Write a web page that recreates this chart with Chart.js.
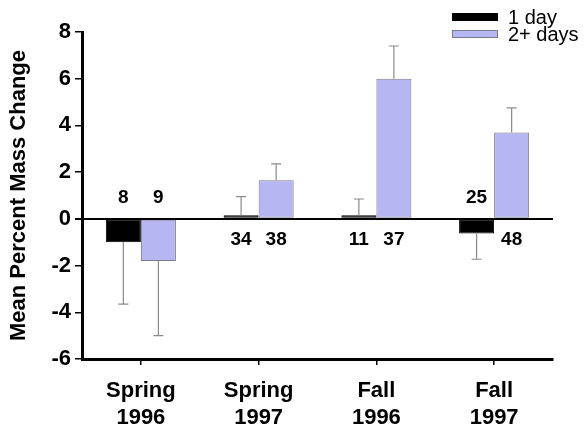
<!DOCTYPE html>
<html>
<head>
<meta charset="utf-8">
<script src="https://cdn.jsdelivr.net/npm/chart.js@4/dist/chart.umd.min.js"></script>
<style>
html,body{margin:0;padding:0;background:#fff;}
#wrap{width:584px;height:430px;position:relative;}
</style>
</head>
<body>
<div id="wrap"><canvas id="c" width="584" height="430"></canvas></div>
<script>
const categories = [["Spring","1996"],["Spring","1997"],["Fall","1996"],["Fall","1997"]];
const oneDay = [-1.0, 0.15, 0.15, -0.63];
const twoDays = [-1.8, 1.65, 6.0, 3.7];
const oneDayErr = [2.65, 0.8, 0.7, 1.1];
const twoDaysErr = [3.2, 0.7, 1.4, 1.05];
const oneDayN = ["8","34","11","25"];
const twoDaysN = ["9","38","37","48"];
const yTicks = [-6,-4,-2,0,2,4,6,8];

const FONT = "Arial, 'Liberation Sans', sans-serif";

const extras = {
  id: 'extras',
  afterDatasetsDraw(chart) {
    const ctx = chart.ctx;
    const y = chart.scales.y;
    const zero = y.getPixelForValue(0);
    chart.data.datasets.forEach((ds, di) => {
      const meta = chart.getDatasetMeta(di);
      meta.data.forEach((bar, i) => {
        const v = ds.data[i];
        const e = ds.err[i];
        const end = v >= 0 ? v + e : v - e;
        const py0 = y.getPixelForValue(v);
        const py1 = y.getPixelForValue(end);
        ctx.save();
        ctx.strokeStyle = '#8a8a8a';
        ctx.lineWidth = 1.2;
        ctx.beginPath();
        ctx.moveTo(bar.x, py0);
        ctx.lineTo(bar.x, py1);
        ctx.moveTo(bar.x - 5, py1);
        ctx.lineTo(bar.x + 5, py1);
        ctx.stroke();
        ctx.fillStyle = '#000';
        ctx.font = "bold 19px " + FONT;
        ctx.textAlign = 'center';
        ctx.textBaseline = 'middle';
        const ly = v >= 0 ? zero + 21 : zero - 21;
        ctx.fillText(ds.n[i], bar.x, ly);
        ctx.restore();
      });
    });
    ctx.save();
    ctx.font = "20px " + FONT;
    ctx.textBaseline = 'middle';
    ctx.textAlign = 'left';
    chart.data.datasets.forEach((ds, di) => {
      const ly = 17 + di * 17;
      ctx.fillStyle = ds.backgroundColor;
      ctx.fillRect(452, ly - 4, 46, 8);
      ctx.strokeStyle = ds.borderColor;
      ctx.lineWidth = 1;
      ctx.strokeRect(452.5, ly - 3.5, 45, 7);
      ctx.fillStyle = '#000';
      ctx.fillText(ds.label, 508, ly + 1);
    });
    ctx.restore();
  }
};

new Chart(document.getElementById('c'), {
  type: 'bar',
  data: {
    labels: categories,
    datasets: [
      { label: '1 day', data: oneDay, err: oneDayErr, n: oneDayN,
        backgroundColor: '#000000', borderColor: '#000000', borderWidth: 1, borderSkipped: false },
      { label: '2+ days', data: twoDays, err: twoDaysErr, n: twoDaysN,
        backgroundColor: '#b6b6f2', borderColor: '#7a7a8a', borderWidth: 1, borderSkipped: false }
    ]
  },
  options: {
    responsive: false,
    animation: false,
    devicePixelRatio: 1,
    layout: { padding: { left: 0, right: 31, top: 32, bottom: 0 } },
    datasets: { bar: { barPercentage: 1.0, categoryPercentage: 0.595 } },
    plugins: { legend: { display: false }, tooltip: { enabled: false } },
    scales: {
      x: {
        grid: { display: true, drawOnChartArea: false, offset: false, tickLength: 6, tickColor: '#000', lineWidth: 1.5 },
        border: { display: true, color: '#000', width: 3 },
        ticks: { color: '#000', font: { family: FONT, size: 22, weight: 'bold', lineHeight: 1.2 }, padding: 13, maxRotation: 0, autoSkip: false },
        afterFit(s) { s.height = 71; }
      },
      y: {
        min: -6, max: 8,
        afterBuildTicks(s) { s.ticks = yTicks.map(v => ({ value: v })); },
        grid: {
          display: true, drawOnChartArea: true, tickLength: 7,
          color: c => (c.tick && c.tick.value === 0) ? '#000' : 'rgba(0,0,0,0)',
          tickColor: '#000',
          lineWidth: c => (c.tick && c.tick.value === 0) ? 2 : 1.5
        },
        border: { display: true, color: '#000', width: 3 },
        ticks: { color: '#000', font: { family: FONT, size: 22, weight: 'bold' }, padding: 4 },
        title: { display: true, text: 'Mean Percent Mass Change', color: '#000', font: { family: FONT, size: 22, weight: 'bold' }, padding: { top: 6, bottom: 0 } },
        afterFit(s) { s.width = 82; }
      }
    }
  },
  plugins: [extras]
});
</script>
</body>
</html>
